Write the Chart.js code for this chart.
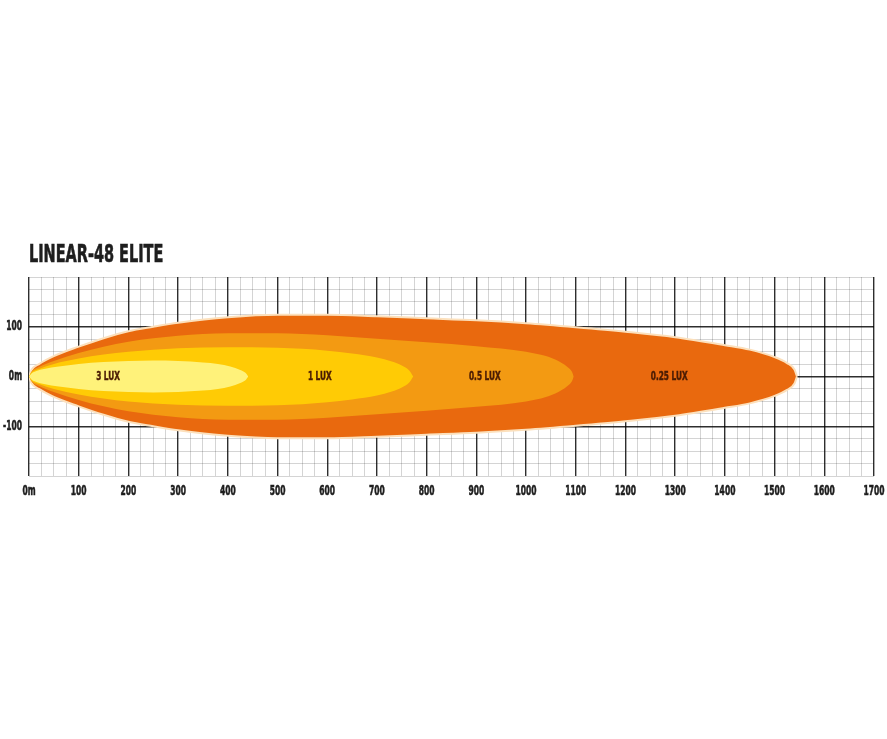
<!DOCTYPE html>
<html>
<head>
<meta charset="utf-8">
<script src="https://cdn.jsdelivr.net/npm/chart.js@4.4.1/dist/chart.umd.min.js"></script>
<style>
  html, body { margin: 0; padding: 0; background: #ffffff; }
  #wrap { width: 887px; height: 739px; position: relative; }
</style>
</head>
<body>
<div id="wrap"><canvas id="c" width="887" height="739"></canvas></div>
<script>
// ---- Data ----
const chartTitle = 'LINEAR-48 ELITE';

// Distance ticks (metres) and their labels
const xTickValues = [0,100,200,300,400,500,600,700,800,900,1000,1100,1200,1300,1400,1500,1600,1700];
const xTickLabels = ['0m','100','200','300','400','500','600','700','800','900','1000','1100','1200','1300','1400','1500','1600','1700'];
const yTickValues = [100, 0, -100];
const yTickLabels = ['100', '0m', '-100'];

// Iso-lux contours: distance (x) and half-width (y) of each beam outline
const lux025X = [0, 5, 20, 50, 100, 150, 200, 250, 300, 400, 500, 600, 700, 800, 900, 1000, 1100, 1200, 1300, 1400, 1450, 1500, 1525, 1540, 1545];
const lux025W = [0, 13, 25, 41, 60, 77, 91, 100, 108, 119, 124, 124, 121, 117, 113, 107, 99, 90, 79, 63, 54, 39, 27, 14, 0];

const lux05X = [0, 5, 20, 50, 100, 150, 200, 300, 400, 500, 600, 700, 800, 900, 1000, 1040, 1065, 1082, 1092, 1096];
const lux05W = [0, 10, 19, 31, 47, 60, 70, 82, 87, 87, 83, 76, 69, 61, 50, 41, 31, 20, 10, 0];

const lux1X = [0, 5, 20, 50, 100, 150, 200, 300, 400, 500, 550, 600, 650, 700, 730, 750, 765, 773];
const lux1W = [0, 8, 15, 25, 36, 44, 50, 57, 59, 58, 56, 52, 46, 38, 30, 22, 12, 0];

const lux3X = [0, 5, 15, 30, 60, 100, 150, 200, 250, 300, 350, 380, 405, 425, 436, 441];
const lux3W = [0, 6, 11, 15, 20, 25, 29, 31, 32, 31, 28, 25, 20, 13, 7, 0];

// Labels placed inside each contour (x position in metres, y = 0)
const luxNames = ['3 LUX', '1 LUX', '0.5 LUX', '0.25 LUX'];
const luxLabelX = [159, 585, 917, 1288];
const luxColors = ['#FFF27A', '#FFCB05', '#F39A12', '#E9690E'];

// ---- Build datasets ----
const FONT = "'DejaVu Sans Condensed', 'Liberation Sans Narrow', sans-serif";

function contour(xs, ws, color, edge) {
  const common = {
    borderColor: edge || 'rgba(0,0,0,0)',
    borderWidth: edge ? 2 : 0,
    pointRadius: 0,
    cubicInterpolationMode: 'monotone'
  };
  const top = Object.assign({ data: xs.map((x, i) => ({ x: x, y: ws[i] })), fill: false }, common);
  const bottom = Object.assign({ data: xs.map((x, i) => ({ x: x, y: -ws[i] })), fill: '-1', backgroundColor: color }, common);
  return [top, bottom];
}

const datasets = [].concat(
  contour(lux3X, lux3W, luxColors[0]),
  contour(lux1X, lux1W, luxColors[1]),
  contour(lux05X, lux05W, luxColors[2]),
  contour(lux025X, lux025W, luxColors[3], '#FCE0BC')
);

const MAJOR = 'rgba(0,0,0,0.82)';
const MINOR = 'rgba(0,0,0,0.17)';

function squeezedText(ctx, text, x, y, sx, align, bold) {
  ctx.save();
  ctx.translate(x, y);
  ctx.scale(sx, 1);
  ctx.textAlign = align;
  ctx.fillText(text, 0, 0);
  if (bold) {
    ctx.lineWidth = bold;
    ctx.strokeStyle = ctx.fillStyle;
    ctx.strokeText(text, 0, 0);
  }
  ctx.restore();
}

const beamLabels = {
  id: 'beamLabels',
  afterDatasetsDraw(chart) {
    const ctx = chart.ctx;
    const xs = chart.scales.x, ys = chart.scales.y;
    ctx.save();
    ctx.fillStyle = '#4a1c04';
    ctx.font = 'bold 13px ' + FONT;
    ctx.textBaseline = 'middle';
    luxNames.forEach((n, i) => {
      squeezedText(ctx, n, xs.getPixelForValue(luxLabelX[i]), ys.getPixelForValue(0) + 0.5, 0.63, 'center', 0.5);
    });
    ctx.restore();
  }
};

const axisText = {
  id: 'axisText',
  afterDraw(chart) {
    const ctx = chart.ctx;
    const xs = chart.scales.x, ys = chart.scales.y;
    const area = chart.chartArea;
    ctx.save();
    ctx.fillStyle = '#1e1e1e';
    ctx.textBaseline = 'middle';
    ctx.font = 'bold 14px ' + FONT;
    xTickValues.forEach((v, i) => {
      squeezedText(ctx, xTickLabels[i], xs.getPixelForValue(v), area.bottom + 15, 0.6, 'center', 0.6);
    });
    yTickValues.forEach((v, i) => {
      squeezedText(ctx, yTickLabels[i], area.left - 7, ys.getPixelForValue(v), 0.6, 'right', 0.6);
    });
    // title
    ctx.textBaseline = 'alphabetic';
    ctx.font = 'bold 24px ' + FONT;
    squeezedText(ctx, chartTitle, area.left, 262, 0.67, 'left', 0.6);
    ctx.restore();
  }
};

new Chart(document.getElementById('c'), {
  type: 'line',
  data: { datasets: datasets },
  plugins: [beamLabels, axisText],
  options: {
    responsive: false,
    animation: false,
    events: [],
    layout: { padding: { top: 277, right: 13, bottom: 233, left: 0 } },
    plugins: { legend: { display: false }, tooltip: { enabled: false }, title: { display: false } },
    scales: {
      x: {
        type: 'linear',
        min: 0, max: 1700,
        afterFit(s) { s.height = 30; },
        border: { display: false },
        grid: {
          drawTicks: false,
          color: (c) => (c.tick && c.tick.value % 100 === 0) ? MAJOR : MINOR,
          lineWidth: (c) => (c.tick && c.tick.value % 100 === 0) ? 1.4 : 1
        },
        ticks: { stepSize: 25, autoSkip: false, maxTicksLimit: 1000, display: false }
      },
      y: {
        type: 'linear',
        min: -200, max: 200,
        afterFit(s) { s.width = 29; },
        border: { display: false },
        grid: {
          drawTicks: false,
          color: (c) => (c.tick && yTickValues.includes(c.tick.value)) ? MAJOR : MINOR,
          lineWidth: (c) => (c.tick && yTickValues.includes(c.tick.value)) ? 1.4 : 1
        },
        ticks: { stepSize: 25, autoSkip: false, maxTicksLimit: 1000, display: false }
      }
    }
  }
});
</script>
</body>
</html>
